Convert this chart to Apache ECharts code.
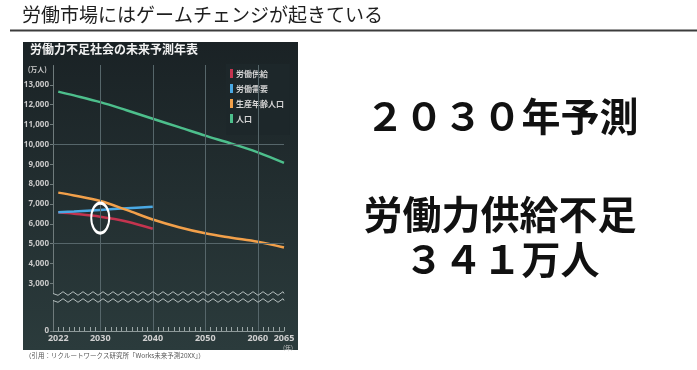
<!DOCTYPE html>
<html>
<head>
<meta charset="utf-8">
<script src="https://cdn.jsdelivr.net/npm/echarts@6/dist/echarts.min.js"></script>
<style>
html,body{margin:0;padding:0;background:#fff;}
#c{width:697px;height:370px;}
</style>
</head>
<body>
<div id="c"></div>
<script>
// ---- data ----
const years = [2022, 2025, 2030, 2035, 2040, 2045, 2050, 2055, 2060, 2065];
const laborYears = [2022, 2025, 2030, 2035, 2040];
const laborSupply = [6580, 6510, 6360, 6120, 5750];      // 労働供給
const laborDemand = [6580, 6620, 6700, 6780, 6860];      // 労働需要
const workingAge = [7570, 7430, 7150, 6700, 6220, 5830, 5520, 5300, 5100, 4810]; // 生産年齢人口
const population = [12660, 12470, 12130, 11720, 11290, 10870, 10440, 10040, 9600, 9070]; // 人口
const seriesNames = ['労働供給', '労働需要', '生産年齢人口', '人口'];
const seriesColors = ['#c3344f', '#4aa9e4', '#f2a04a', '#4dbf8c'];
const xTickLabels = [2022, 2030, 2040, 2050, 2060, 2065];
const yTickLabels = [0, 3000, 4000, 5000, 6000, 7000, 8000, 9000, 10000, 11000, 12000, 13000];
const gridYears = [2030, 2040, 2050, 2060];
const gridValues = [5000, 10000];
const callout = [2030, 6290];
const pageTitle = '労働市場にはゲームチェンジが起きている';
const chartTitle = '労働力不足社会の未来予測年表';
const sourceNote = '（引用：リクルートワークス研究所「Works未来予測20XX」）';
const bigLines = ['２０３０年予測', '労働力供給不足', '３４１万人'];

const minorYears = [];
for (let y = 2022; y <= 2065; y++) minorYears.push(y);

const pair = (xs, ys) => xs.map((x, i) => [x, ys[i]]);
const JP = '"Noto Sans CJK JP", "Noto Sans", sans-serif';

const chart = echarts.init(document.getElementById('c'));

const lineSeries = [
  pair(laborYears, laborSupply),
  pair(laborYears, laborDemand),
  pair(years, workingAge),
  pair(years, population)
].map((d, i) => ({
  name: seriesNames[i],
  type: 'line',
  data: d,
  showSymbol: false,
  smooth: 0.35,
  lineStyle: { width: 2.5, color: seriesColors[i] },
  itemStyle: { color: seriesColors[i] },
  z: 3
}));

lineSeries.push({
  type: 'line',
  data: [],
  silent: true,
  markLine: {
    silent: true,
    symbol: ['none', 'none'],
    label: { show: false },
    lineStyle: { color: '#56666a', width: 1, type: 'solid' },
    data: gridYears.map(v => ({ xAxis: v })).concat(gridValues.map(v => ({ yAxis: v })))
  },
  z: 1
});
lineSeries.push({
  type: 'line',
  data: [],
  silent: true,
  markPoint: {
    silent: true,
    symbol: 'circle',
    symbolSize: [18, 30],
    label: { show: false },
    itemStyle: { color: 'rgba(0,0,0,0)', borderColor: '#ffffff', borderWidth: 2.5 },
    data: [{ coord: callout }]
  },
  z: 5
});

const option = {
  animation: false,
  backgroundColor: '#ffffff',
  textStyle: { fontFamily: JP },
  graphic: [
    { type: 'rect', left: 23, top: 42, z: -10, silent: true,
      shape: { width: 275, height: 308 },
      style: { fill: new echarts.graphic.LinearGradient(0, 0, 0, 1, [
        { offset: 0, color: '#1a2225' }, { offset: 1, color: '#2b3b3c' }]) } },
    { type: 'line', silent: true, z: 10,
      shape: { x1: 10, y1: 30.5, x2: 697, y2: 30.5 },
      style: { stroke: '#3c3c3c', lineWidth: 2 } },
    { type: 'text', left: 22, top: 5, silent: true,
      style: { text: pageTitle, font: '19px ' + JP, fill: '#1e1e1e' } },
    { type: 'text', left: 30, top: 43, silent: true,
      style: { text: chartTitle, font: 'bold 12px ' + JP, fill: '#f2f2f2' } },
    { type: 'text', left: 25, top: 352, silent: true,
      style: { text: sourceNote, font: '6.5px ' + JP, fill: '#555' } },
    { type: 'text', x: 502, y: 116, silent: true,
      style: { text: bigLines[0], font: 'bold 39px ' + JP, fill: '#111', align: 'center', verticalAlign: 'middle' } },
    { type: 'text', x: 500, y: 214, silent: true,
      style: { text: bigLines[1], font: 'bold 39px ' + JP, fill: '#111', align: 'center', verticalAlign: 'middle' } },
    { type: 'text', x: 502, y: 259, silent: true,
      style: { text: bigLines[2], font: 'bold 39px ' + JP, fill: '#111', align: 'center', verticalAlign: 'middle' } }
  ],
  legend: {
    data: seriesNames,
    orient: 'vertical',
    left: 226, top: 64,
    padding: [5, 6, 12, 4],
    backgroundColor: '#1d272a',
    icon: 'rect',
    itemWidth: 3, itemHeight: 9, itemGap: 6,
    textStyle: { color: '#d4d4d4', fontSize: 8, fontWeight: 'bold', fontFamily: JP, padding: [0, 0, 0, -2] },
    selectedMode: false
  },
  grid: { left: 53, right: 413, top: 65, bottom: 39 },
  xAxis: {
    type: 'value',
    min: 2021, max: 2065,
    name: '(年)',
    nameLocation: 'end',
    nameGap: 4,
    nameTextStyle: { color: '#c8c8c8', fontSize: 6, align: 'center', verticalAlign: 'top', padding: [14, 0, 0, 0] },
    axisLine: { show: true, lineStyle: { color: '#8d9999', width: 1 } },
    axisTick: { show: true, inside: true, length: 4, customValues: minorYears, lineStyle: { color: '#9aa5a5' } },
    axisLabel: { customValues: xTickLabels, color: '#d0d0d0', fontSize: 9, fontWeight: 'bold', margin: 3,
      fontFamily: '"Noto Sans", sans-serif', formatter: v => String(v) },
    splitLine: { show: false }
  },
  yAxis: {
    type: 'value',
    min: 0, max: 14000,
    name: '(万人)',
    nameLocation: 'end',
    nameGap: -8,
    nameTextStyle: { color: '#c8c8c8', fontSize: 7, fontWeight: 'bold', align: 'right', padding: [0, 6, 0, 0], fontFamily: JP },
    breaks: [{ start: 1550, end: 2500, gap: 350 }],
    breakArea: {
      show: true,
      expandOnClick: false,
      zigzagAmplitude: 1.8,
      zigzagMinSpan: 5,
      zigzagMaxSpan: 5,
      zigzagZ: 100,
      itemStyle: { color: 'rgba(0,0,0,0)', borderColor: '#b4bebe', borderWidth: 1, borderType: 'solid', opacity: 1 }
    },
    axisLine: { show: true, lineStyle: { color: '#6f7b7c', width: 1 } },
    axisTick: { show: true, length: 3, customValues: yTickLabels, lineStyle: { color: '#6f7b7c' } },
    axisLabel: {
      customValues: yTickLabels,
      color: '#c8c8c8', fontSize: 8, fontWeight: 'bold', margin: 4,
      fontFamily: '"Noto Sans", sans-serif',
      formatter: v => v.toLocaleString('en-US')
    },
    splitLine: { show: false }
  },
  series: lineSeries
};
chart.setOption(option);
</script>
</body>
</html>
